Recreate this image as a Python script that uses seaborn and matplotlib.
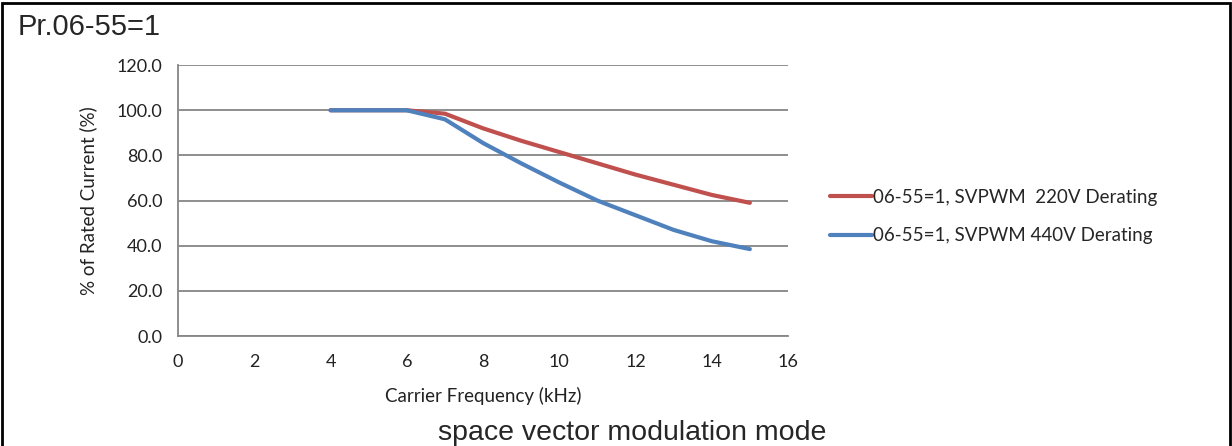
import pandas as pd
import matplotlib.pyplot as plt
import seaborn as sns
from matplotlib.patches import Rectangle

# Data
freq_khz = [4, 5, 6, 7, 8, 9, 10, 11, 12, 13, 14, 15]
derate_220v = [100, 100, 100, 98.5, 92, 86.5, 81.5, 76.5, 71.5, 67, 62.5, 59]
derate_440v = [100, 100, 100, 96, 85.5, 76.5, 68, 60, 53.5, 47, 42, 38.5]
series_names = ['06-55=1, SVPWM  220V Derating', '06-55=1, SVPWM 440V Derating']
series_colors = ['#C0504D', '#4F81BD']
x_ticks = list(range(0, 17, 2))
y_ticks = [0, 20, 40, 60, 80, 100, 120]

df = pd.concat([
    pd.DataFrame({'freq': freq_khz, 'pct': derate_220v, 'series': series_names[0]}),
    pd.DataFrame({'freq': freq_khz, 'pct': derate_440v, 'series': series_names[1]}),
])

sns.set_style('white')
plt.rcParams['font.family'] = ['Lato', 'DejaVu Sans']

fig = plt.figure(figsize=(12.32, 4.46), dpi=100)
ax = fig.add_axes([0.1445, 0.2466, 0.4951, 0.6074])

sns.lineplot(data=df, x='freq', y='pct', hue='series', palette=series_colors,
             linewidth=3, ax=ax, legend=False)

ax.set_xlim(0, 16)
ax.set_ylim(0, 120)
ax.set_xticks(x_ticks)
ax.set_yticks(y_ticks)
ax.set_yticklabels([f'{v:.1f}' for v in y_ticks])
ax.grid(axis='y', color='#868686', linewidth=1.3)
ax.set_axisbelow(True)
for side in ['top', 'right']:
    ax.spines[side].set_visible(False)
for side in ['left', 'bottom']:
    ax.spines[side].set_color('#868686')
    ax.spines[side].set_linewidth(1.3)
ax.tick_params(axis='both', direction='out', length=5, width=1.3, color='#868686',
               labelsize=13, labelcolor='#222222')
ax.tick_params(axis='x', pad=8)
ax.tick_params(axis='y', pad=6)
ax.set_xlabel('Carrier Frequency (kHz)', fontsize=13.5, color='#222222', labelpad=12)
ax.set_ylabel('% of Rated Current (%)', fontsize=13.5, color='#222222', labelpad=14)

handles = [plt.Line2D([], [], color=c, linewidth=3) for c in series_colors]
fig.legend(handles, series_names, loc='upper left', bbox_to_anchor=(0.6737, 0.577),
           frameon=False, fontsize=13.5, handlelength=2.25, handletextpad=0.05,
           labelspacing=1.15, borderaxespad=0, borderpad=0)

fig.text(0.0146, 0.94, 'Pr.06-55=1', family='Liberation Sans', fontsize=21,
         va='center', ha='left')
fig.text(0.513, 0.03, 'space vector modulation mode', family='Liberation Sans',
         fontsize=20.5, va='center', ha='center')

fig.patches.append(Rectangle((0.002, -0.01), 0.996, 1.003, transform=fig.transFigure,
                             fill=False, edgecolor='black', linewidth=2))

fig.savefig('out.png', dpi=100)
plt.close(fig)
